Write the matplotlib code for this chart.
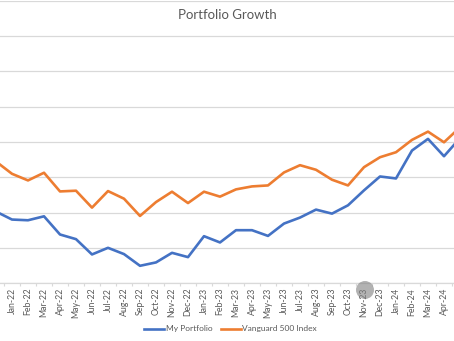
import matplotlib

matplotlib.use("Agg")
import matplotlib.pyplot as plt  # noqa: E402
import numpy as np  # noqa: E402
from matplotlib.patches import Ellipse  # noqa: E402

# monthly values (y labels are cropped in the source)
months = [
    "Dec-21", "Jan-22", "Feb-22", "Mar-22", "Apr-22", "May-22", "Jun-22",
    "Jul-22", "Aug-22", "Sep-22", "Oct-22", "Nov-22", "Dec-22", "Jan-23",
    "Feb-23", "Mar-23", "Apr-23", "May-23", "Jun-23", "Jul-23", "Aug-23",
    "Sep-23", "Oct-23", "Nov-23", "Dec-23", "Jan-24", "Feb-24", "Mar-24",
    "Apr-24", "May-24",
]
my_portfolio = [
    10130, 9000, 8900, 9460, 6880, 6220, 4050, 4990, 4100, 2440, 2920,
    4280, 3670, 6640, 5750, 7490, 7490, 6680, 8430, 9280, 10410, 9840,
    11020, 13140, 15110, 14830, 18790, 20440, 17980, 20550,
]
vanguard_500 = [
    17230, 15490, 14550, 15640, 12990, 13090, 10690, 13040, 11960, 9510,
    11480, 12950, 11340, 12950, 12250, 13280, 13700, 13840, 15680, 16710,
    16060, 14650, 13840, 16430, 17840, 18550, 20300, 21470, 19960, 22080,
]

BLUE = "#4472C4"
ORANGE = "#ED7D31"
GRID = "#D9D9D9"
TEXT = "#595959"

plt.rcParams["font.family"] = ["Lato", "DejaVu Sans"]

fig = plt.figure(figsize=(4.54, 3.41), dpi=100)
ax = fig.add_axes([0.0, 58 / 341, 1.0, 282 / 341])

x = np.arange(len(months))
ax.plot(x, my_portfolio, color=BLUE, lw=1.9, label="My Portfolio", solid_joinstyle="round")
ax.plot(x, vanguard_500, color=ORANGE, lw=1.9, label="Vanguard 500 Index", solid_joinstyle="round")

# category boundaries get the tick marks, centres get the labels
# (the first month sits left of the cropped edge, so it gets no label)
ax.set_xticks(x + 0.5)
ax.set_xticks(x[1:], minor=True)
ax.set_xticklabels(months[1:], minor=True, rotation=90, fontsize=6.3, color=TEXT)
ax.tick_params(axis="x", which="major", length=2.5, width=0.8, color=GRID, labelbottom=False)
ax.tick_params(axis="x", which="minor", length=0, pad=3.5)

ax.set_yticks(np.arange(0, 40001, 5000))
ax.yaxis.grid(True, color=GRID, lw=0.9)
ax.set_axisbelow(True)
ax.tick_params(axis="y", left=False, labelleft=False)

# limits after the ticks, set_xticks would widen them otherwise
ax.set_xlim(0.25, 28.625)
ax.set_ylim(0, 40000)

for side in ["top", "left", "right"]:
    ax.spines[side].set_visible(False)
ax.spines["bottom"].set_color(GRID)
ax.spines["bottom"].set_linewidth(0.9)

fig.text(0.5, 1 - 15 / 341, "Portfolio Growth", ha="center", va="center",
         fontsize=9.5, color=TEXT)

fig.legend(loc="center", bbox_to_anchor=(0.508, 1 - 329 / 341), ncol=2, frameon=False,
           fontsize=6, handlelength=2.4, columnspacing=1.0, handletextpad=0.2,
           labelcolor=TEXT)

# pointer highlight visible in the screenshot
fig.patches.append(Ellipse((365 / 454, 1 - 290 / 341), 18 / 454, 18 / 341,
                           transform=fig.transFigure, facecolor="#808080",
                           alpha=0.6, edgecolor="none", zorder=5))

fig.savefig("out.png", dpi=100)
